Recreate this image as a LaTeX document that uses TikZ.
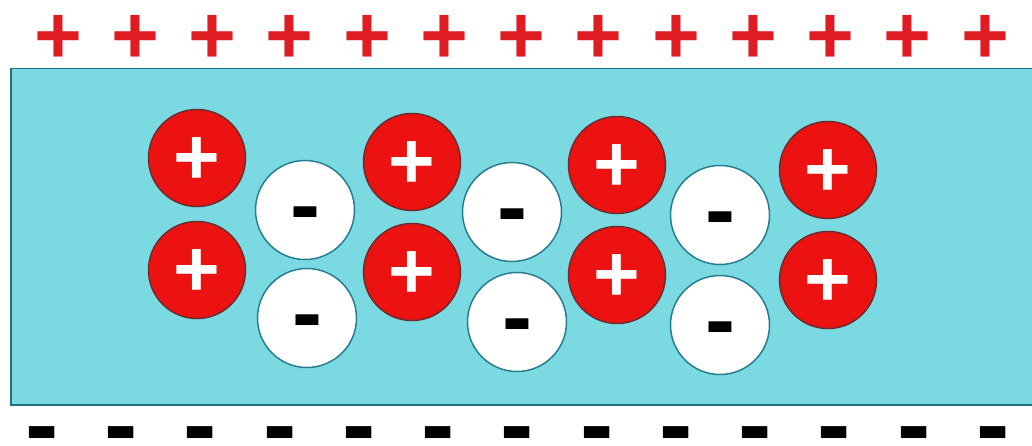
\documentclass[tikz,border=0pt]{standalone}
\usepackage{fontspec}
\setmainfont{Liberation Sans}
\definecolor{slabfill}{RGB}{122,217,225}
\definecolor{slabline}{RGB}{30,115,125}
\definecolor{ionred}{RGB}{236,18,18}
\definecolor{ionredline}{RGB}{110,45,45}
\definecolor{whiteline}{RGB}{40,125,145}
\definecolor{signred}{RGB}{222,28,34}
\begin{document}
\begin{tikzpicture}[x=1pt,y=-1pt,
  cation/.style={circle,draw=ionredline,line width=1.5pt,fill=ionred,minimum size=97pt,inner sep=0pt},
  anion/.style={circle,draw=whiteline,line width=1.5pt,fill=white,minimum size=99pt,inner sep=0pt},
  pluswhite/.style={inner sep=0pt,text=white,yshift=-3pt,font=\bfseries\fontsize{80}{80}\selectfont},
  minusblack/.style={inner sep=0pt,text=black,yshift=-11.5pt,font=\bfseries\fontsize{90}{90}\selectfont},
  topsign/.style={inner sep=0pt,text=signred,yshift=-3pt,font=\bfseries\fontsize{82}{82}\selectfont},
  botsign/.style={inner sep=0pt,text=black,yshift=-13pt,font=\bfseries\fontsize{100}{100}\selectfont}]
\useasboundingbox (0,0) rectangle (1032,445);
\begin{scope}
\clip (0,0) rectangle (1032,445);
\node[draw=slabline,line width=1.5pt,fill=slabfill,minimum width=1025pt,minimum height=336.5pt,inner sep=0pt] (slab) at (523.5,236.75) {};
\end{scope}
% top plus signs
\foreach \i in {0,...,12}{
  \node[topsign] (tp\i) at ({58+77.25*\i},36) {+};
}
% bottom minus signs
\foreach \i in {0,...,12}{
  \node[botsign] (bm\i) at ({42+79.25*\i},430) {-};
}
% cations
\foreach \n/\x/\y in {c1/197/158,c2/197/270,c3/412/162,c4/412/272,c5/617/165,c6/617/275,c7/828/170,c8/828/280}{
  \node[cation] (\n) at (\x,\y) {};
  \node[pluswhite] (\n-s) at (\n) {+};
}
% anions
\foreach \n/\x/\y in {a1/305/210,a2/307/318,a3/512/212,a4/517/322,a5/720/215,a6/720/325}{
  \node[anion] (\n) at (\x,\y) {};
  \node[minusblack] (\n-s) at (\n) {-};
}
\end{tikzpicture}
\end{document}
